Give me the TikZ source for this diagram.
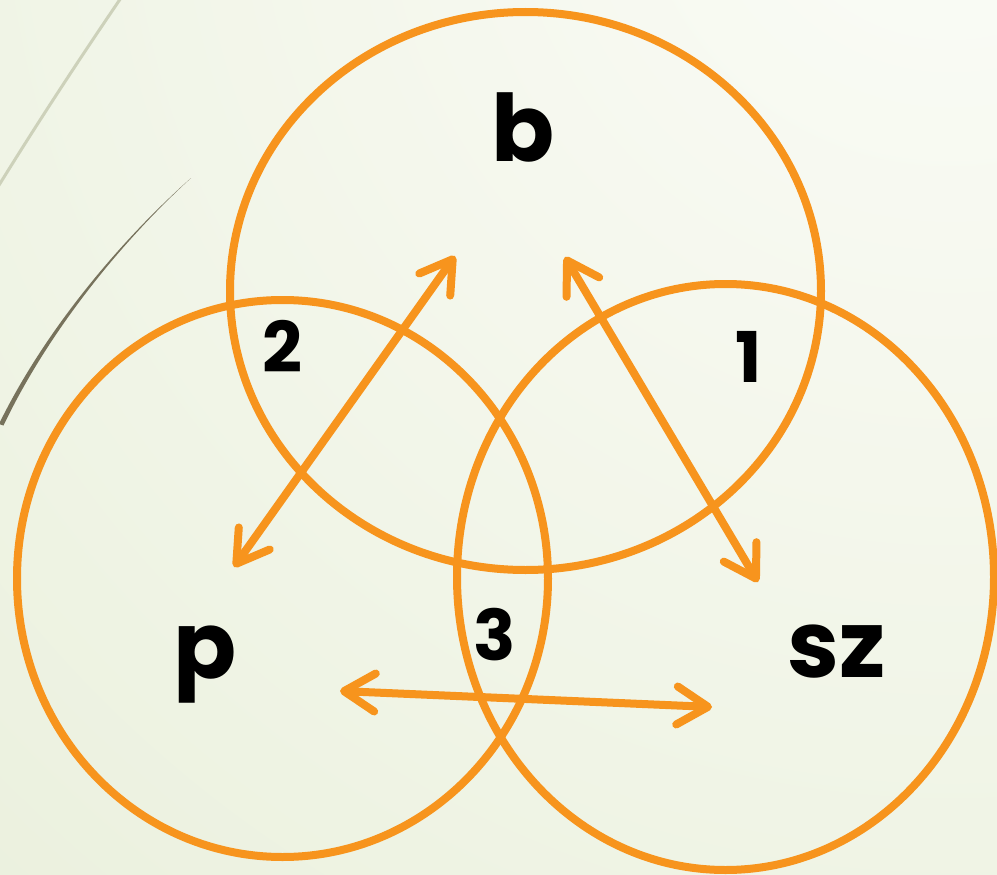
\documentclass[tikz,border=0pt]{standalone}
\usepackage{fontspec}
\setmainfont{Poppins}
\usetikzlibrary{arrows.meta}
\definecolor{ringorange}{RGB}{247,148,29}
\definecolor{bgin}{RGB}{251,252,247}
\definecolor{bgout}{RGB}{224,233,205}
\definecolor{decolight}{RGB}{205,209,186}
\definecolor{decodark}{RGB}{119,114,92}
\tikzset{
  ring/.style={draw=ringorange, line width=8pt},
  dblarrow/.style={draw=ringorange, line width=8pt, line cap=round,
    {Straight Barb[length=31pt,width=38pt,round]}-{Straight Barb[length=31pt,width=38pt,round]}},
  biglabel/.style={font=\bfseries\fontsize{93}{93}\selectfont, inner sep=0pt, anchor=base},
  numlabel/.style={font=\bfseries\fontsize{70}{70}\selectfont, inner sep=0pt, anchor=base}
}
\begin{document}
\begin{tikzpicture}[x=1pt,y=-1pt]
\useasboundingbox (0,0) rectangle (997,875);
\begin{scope}
  \clip (0,0) rectangle (997,875);
  \shade[inner color=bgin, outer color=bgout] (950,-150) circle [radius=2400];
\end{scope}
% decorative lines
\draw[decolight, line width=3pt] (125,-8) .. controls (80,58) and (38,122) .. (-4,190);
\fill[decodark] (191,178) .. controls (110,250) and (40,340) .. (-1,424)
  -- (3.5,425.5) .. controls (43.5,341.5) and (111.5,251) .. (191,178) -- cycle;
% circles
\draw[ring] (525.5,291) ellipse [x radius=295.5, y radius=279];
\draw[ring] (282.5,578.5) ellipse [x radius=265.5, y radius=278.5];
\draw[ring] (725.5,577) ellipse [x radius=268.5, y radius=293];
% labels
\node[biglabel] (b) at (523.5,161) {b};
\node[biglabel] (p) at (205.5,678) {p};
\node[biglabel] (sz) at (837,677) {sz};
\node[numlabel] (n2) at (282.5,372) {2};
\node[numlabel] (n1) at (748.5,382) {1};
\node[numlabel] (n3) at (494.5,660) {3};
% arrow ends
\coordinate (a1s) at (234,567);
\coordinate (a1e) at (455,256);
\coordinate (a2s) at (565,257);
\coordinate (a2e) at (758,582);
\coordinate (a3s) at (340,691);
\coordinate (a3e) at (712,707);
\draw[dblarrow] (a1s) -- (a1e);
\draw[dblarrow] (a2s) -- (a2e);
\draw[dblarrow] (a3s) -- (a3e);
\end{tikzpicture}
\end{document}
